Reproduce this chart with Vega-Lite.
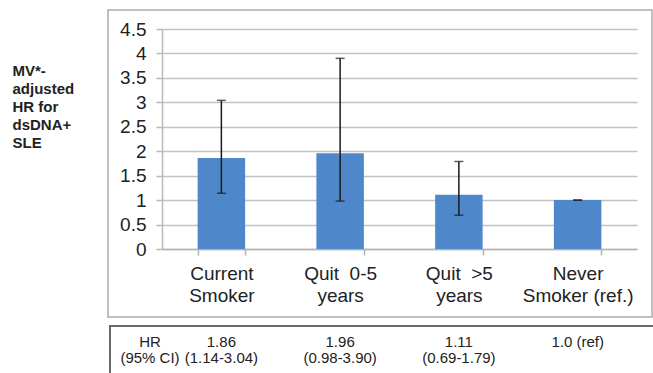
{
  "$schema": "https://vega.github.io/schema/vega-lite/v6.json",
  "width": 475,
  "height": 220,
  "autosize": {"type": "none"},
  "padding": {"left": 162, "top": 29, "right": 16, "bottom": 124},
  "background": "white",
  "config": {
    "view": {"stroke": null},
    "font": "Liberation Sans",
    "axisY": {
      "titleAngle": 0,
      "titleAlign": "left",
      "titleBaseline": "alphabetic",
      "titleX": -150,
      "titleY": 46,
      "titleFontSize": 15,
      "titleFontWeight": "bold",
      "titleColor": "#222",
      "titleLineHeight": 18,
      "tickCount": 10,
      "format": "~g",
      "labelFontSize": 19,
      "labelColor": "#222",
      "labelPadding": 10,
      "labelFlush": false,
      "tickSize": 6,
      "tickWidth": 1.5,
      "tickColor": "#b8b8b8",
      "domainColor": "#b8b8b8",
      "domainWidth": 1.5,
      "grid": true,
      "gridColor": "#c2c2c2",
      "gridWidth": 1.5
    }
  },
  "datasets": {
    "hr": [
      {"group": "Current Smoker", "hr": 1.86, "lo": 1.14, "hi": 3.04, "hr_text": "1.86", "ci_text": "(1.14-3.04)"},
      {"group": "Quit  0-5 years", "hr": 1.96, "lo": 0.98, "hi": 3.90, "hr_text": "1.96", "ci_text": "(0.98-3.90)"},
      {"group": "Quit  >5 years", "hr": 1.11, "lo": 0.69, "hi": 1.79, "hr_text": "1.11", "ci_text": "(0.69-1.79)"},
      {"group": "Never Smoker (ref.)", "hr": 1.0, "lo": 1.0, "hi": 1.0, "hr_text": "1.0 (ref)", "ci_text": ""}
    ],
    "rowlabels": [
      {"hr_label": "HR", "ci_label": "(95% CI)"}
    ]
  },
  "resolve": {"scale": {"x": "independent"}, "axis": {"x": "independent"}},
  "layer": [
    {
      "data": {"name": "rowlabels"},
      "mark": {"type": "rect", "filled": false, "stroke": "#ababab", "strokeWidth": 1.5},
      "encoding": {
        "x": {"datum": -0.1137, "type": "quantitative", "scale": {"domain": [0, 1], "nice": false, "zero": false}, "axis": null},
        "x2": {"datum": 1.0316},
        "y": {"datum": 4.889, "type": "quantitative"},
        "y2": {"datum": -1.391}
      }
    },
    {
      "data": {"name": "rowlabels"},
      "mark": {"type": "rect", "filled": false, "stroke": "#6b6b6b", "strokeWidth": 2},
      "encoding": {
        "x": {"datum": -0.1095, "type": "quantitative", "scale": {"domain": [0, 1], "nice": false, "zero": false}, "axis": null},
        "x2": {"datum": 1.04},
        "y": {"datum": -1.575, "type": "quantitative"},
        "y2": {"datum": -2.9}
      }
    },
    {
      "data": {"name": "rowlabels"},
      "mark": {"type": "text", "fontSize": 15, "color": "#222", "align": "center", "baseline": "middle"},
      "encoding": {
        "x": {"datum": -0.0253, "type": "quantitative", "scale": {"domain": [0, 1], "nice": false, "zero": false}, "axis": null},
        "y": {"datum": -1.902, "type": "quantitative"},
        "text": {"field": "hr_label"}
      }
    },
    {
      "data": {"name": "rowlabels"},
      "mark": {"type": "text", "fontSize": 15, "color": "#222", "align": "center", "baseline": "middle"},
      "encoding": {
        "x": {"datum": -0.0253, "type": "quantitative", "scale": {"domain": [0, 1], "nice": false, "zero": false}, "axis": null},
        "y": {"datum": -2.23, "type": "quantitative"},
        "text": {"field": "ci_label"}
      }
    },
    {
      "data": {"name": "hr"},
      "encoding": {
        "x": {
          "field": "group",
          "type": "nominal",
          "scale": {
            "domain": ["Current Smoker", "Quit  0-5 years", "Quit  >5 years", "Never Smoker (ref.)"],
            "paddingInner": 0.6,
            "paddingOuter": 0.3
          },
          "axis": {
            "title": null,
            "labelAngle": 0,
            "labelExpr": "indexof(datum.label, ' years') > 0 ? [replace(substring(datum.label, 0, indexof(datum.label, ' years')), '  ', ' \u00a0'), 'years'] : [substring(datum.label, 0, indexof(datum.label, ' ')), substring(datum.label, indexof(datum.label, ' ') + 1)]",
            "labelFontSize": 19,
            "labelColor": "#222",
            "labelLineHeight": 22,
            "labelBaseline": "top",
            "labelPadding": 9.5,
            "labelLimit": 300,
            "tickBand": "extent",
            "tickSize": 6,
            "tickWidth": 1.5,
            "tickColor": "#b3b3b3",
            "domainColor": "#b3b3b3",
            "domainWidth": 1.5,
            "grid": false
          }
        }
      },
      "layer": [
        {
          "mark": {"type": "bar", "color": "#4f88ca"},
          "encoding": {
            "y": {
              "field": "hr",
              "type": "quantitative",
              "scale": {"domain": [0, 4.5], "nice": false, "zero": false},
              "axis": {
                "title": ["MV*-", "adjusted", "HR for", "dsDNA+", "SLE"],
                "values": [0, 0.5, 1, 1.5, 2, 2.5, 3, 3.5, 4, 4.5]
              }
            }
          }
        },
        {
          "mark": {"type": "rule", "color": "#1a1a1a", "strokeWidth": 1.5},
          "encoding": {
            "y": {"field": "lo", "type": "quantitative"},
            "y2": {"field": "hi"}
          }
        },
        {
          "mark": {"type": "tick", "color": "#1a1a1a", "size": 9, "thickness": 1.5, "orient": "horizontal"},
          "encoding": {
            "y": {"field": "lo", "type": "quantitative"}
          }
        },
        {
          "mark": {"type": "tick", "color": "#1a1a1a", "size": 9, "thickness": 1.5, "orient": "horizontal"},
          "encoding": {
            "y": {"field": "hi", "type": "quantitative"}
          }
        },
        {
          "mark": {"type": "text", "fontSize": 15, "color": "#222", "align": "center", "baseline": "middle"},
          "encoding": {
            "y": {"datum": -1.902, "type": "quantitative"},
            "text": {"field": "hr_text"}
          }
        },
        {
          "mark": {"type": "text", "fontSize": 15, "color": "#222", "align": "center", "baseline": "middle"},
          "encoding": {
            "y": {"datum": -2.23, "type": "quantitative"},
            "text": {"field": "ci_text"}
          }
        }
      ]
    }
  ]
}
